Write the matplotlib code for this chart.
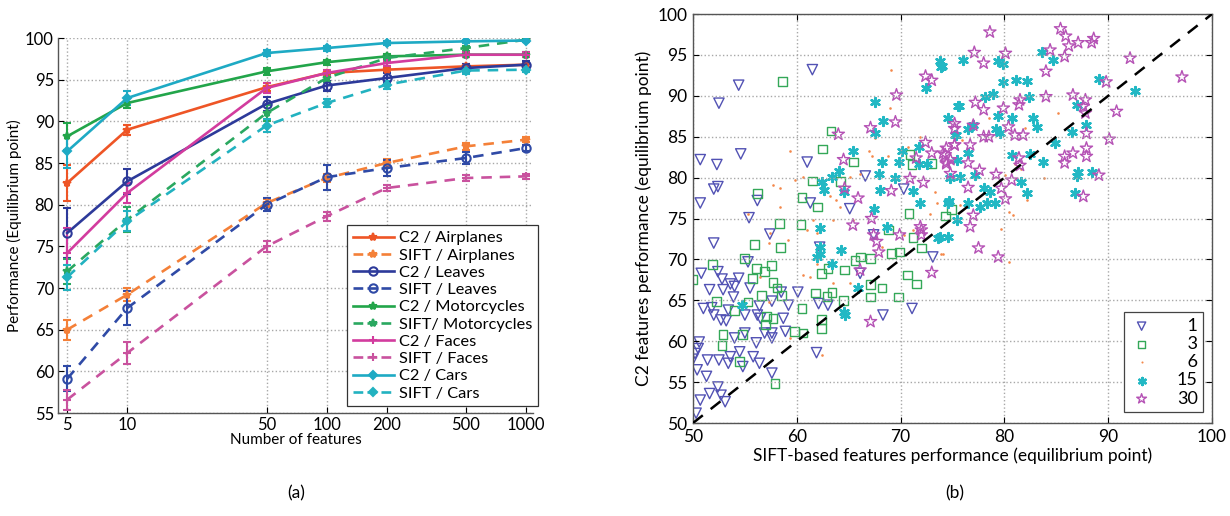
import numpy as np
import matplotlib
matplotlib.use("Agg")
import matplotlib.pyplot as plt
from matplotlib.lines import Line2D

plt.rcParams['font.family'] = ['Lato', 'DejaVu Sans']

# ---------------- (a) performance vs number of features ----------------
n_features = [5, 10, 50, 100, 200, 500, 1000]

c2_airplanes = [82.6, 89.0, 94.1, 95.8, 96.2, 96.6, 96.8]
c2_airplanes_err = [2.2, 0.6, 0.5, 0.3, 0.3, 0.3, 0.3]
sift_airplanes = [65.0, 69.2, 80.2, 83.2, 85.0, 87.0, 87.8]
sift_airplanes_err = [1.2, 0.8, 0.5, 0.5, 0.5, 0.4, 0.3]
c2_leaves = [76.6, 82.8, 92.1, 94.3, 95.2, 96.4, 96.8]
c2_leaves_err = [3.0, 1.5, 0.8, 0.6, 0.6, 0.5, 0.4]
sift_leaves = [59.1, 67.6, 80.0, 83.3, 84.4, 85.6, 86.8]
sift_leaves_err = [1.5, 2.0, 0.8, 1.5, 1.0, 0.7, 0.4]
c2_motorcycles = [88.2, 92.2, 96.0, 97.1, 97.8, 98.0, 98.0]
c2_motorcycles_err = [1.6, 0.6, 0.4, 0.3, 0.3, 0.3, 0.3]
sift_motorcycles = [72.0, 78.2, 91.0, 95.2, 97.6, 98.8, 99.8]
sift_motorcycles_err = [1.5, 1.5, 1.0, 0.5, 0.4, 0.3, 0.2]
c2_faces = [74.2, 81.4, 94.0, 95.8, 97.0, 98.0, 98.0]
c2_faces_err = [3.0, 1.2, 0.6, 0.4, 0.3, 0.3, 0.3]
sift_faces = [56.6, 62.2, 75.0, 78.6, 82.0, 83.2, 83.4]
sift_faces_err = [1.2, 1.3, 0.7, 0.5, 0.4, 0.4, 0.3]
c2_cars = [86.4, 92.8, 98.2, 98.8, 99.4, 99.6, 99.7]
c2_cars_err = [2.0, 0.8, 0.4, 0.3, 0.2, 0.2, 0.2]
sift_cars = [71.3, 78.0, 89.5, 92.2, 94.4, 96.1, 96.2]
sift_cars_err = [1.5, 1.2, 0.8, 0.5, 0.5, 0.4, 0.3]

series_a = [
    ("C2 / Airplanes", c2_airplanes, c2_airplanes_err, '#ee5526', '-', '*'),
    ("SIFT / Airplanes", sift_airplanes, sift_airplanes_err, '#f48038', '--', '*'),
    ("C2 / Leaves", c2_leaves, c2_leaves_err, '#2d3a9a', '-', 'o'),
    ("SIFT / Leaves", sift_leaves, sift_leaves_err, '#2f4aa6', '--', 'o'),
    ("C2 / Motorcycles", c2_motorcycles, c2_motorcycles_err, '#22a54a', '-', '*'),
    ("SIFT/ Motorcycles", sift_motorcycles, sift_motorcycles_err, '#2aa860', '--', '*'),
    ("C2 / Faces", c2_faces, c2_faces_err, '#d23c9e', '-', '+'),
    ("SIFT / Faces", sift_faces, sift_faces_err, '#c9529e', '--', '+'),
    ("C2 / Cars", c2_cars, c2_cars_err, '#1eaac4', '-', 'D'),
    ("SIFT / Cars", sift_cars, sift_cars_err, '#22b2c0', '--', 'D'),
]

# ---------------- (b) scatter C2 vs SIFT ----------------
tri_x = [61.5, 54.4, 52.5, 54.6, 50.7, 52.3, 61.0, 66.6, 52.0, 52.4, 50.7, 56.2, 61.3, 65.1, 70.3,
         55.4, 57.4, 52.0, 67.4, 50.8, 51.6, 52.4, 52.8, 53.6, 52.9, 54.0, 53.9, 54.4, 55.3, 55.5,
         56.4, 51.0, 52.0, 51.8, 52.7, 53.2, 53.4, 55.0, 56.2, 56.5, 57.6, 58.5, 59.2, 60.1, 58.7,
         58.9, 57.6, 56.9, 55.0, 54.0, 56.1, 57.6, 50.6, 50.5, 50.2, 50.0, 51.4, 52.5, 53.6, 54.5,
         55.8, 56.4, 54.8, 53.4, 50.4, 51.3, 57.6, 52.4, 51.6, 50.7, 52.7, 53.1, 50.3, 61.9, 62.1,
         63.0, 62.2, 66.1, 68.3, 71.1, 73.1]
tri_y = [93.2, 91.3, 89.1, 82.9, 82.2, 81.6, 81.9, 80.2, 78.6, 78.9, 76.9, 77.2, 76.9, 76.2, 78.6,
         75.1, 73.1, 72.0, 73.0, 68.3, 66.3, 68.5, 67.6, 67.0, 66.3, 66.7, 65.4, 67.7, 69.7, 66.5,
         64.3, 64.0, 63.2, 64.1, 62.6, 62.5, 63.8, 63.2, 63.2, 62.8, 64.9, 66.0, 64.4, 66.0, 62.8,
         61.2, 61.0, 61.0, 61.0, 60.4, 59.8, 60.4, 59.9, 59.1, 58.5, 57.8, 57.7, 57.7, 58.1, 58.7,
         58.1, 57.3, 56.9, 57.3, 56.5, 55.7, 56.1, 54.4, 53.6, 52.8, 53.4, 52.6, 51.2, 58.6, 64.6,
         64.4, 71.5, 68.3, 63.2, 64.0, 70.3]

sq_x = [58.6, 63.3, 62.5, 65.5, 61.5, 64.2, 56.2, 60.5, 62.0, 70.9, 71.1, 73.0, 58.3, 60.4, 70.8,
        74.3, 74.9, 68.8, 71.2, 55.9, 58.4, 50.0, 51.9, 55.0, 56.1, 56.9, 57.6, 55.7, 56.6, 57.7,
        58.1, 58.5, 52.3, 54.0, 55.3, 57.1, 57.0, 57.7, 59.8, 60.6, 52.9, 54.8, 52.8, 54.5, 57.9,
        60.5, 61.8, 62.9, 63.4, 62.4, 62.4, 62.4, 63.0, 64.6, 65.6, 66.1, 67.1, 64.5, 67.1, 67.1,
        68.2, 69.1, 69.9, 70.7, 71.5, 69.8, 72.0]
sq_y = [91.8, 85.7, 83.5, 81.9, 79.6, 79.5, 78.1, 77.6, 76.4, 82.8, 81.6, 81.7, 74.4, 74.3, 75.6,
        75.3, 76.1, 73.6, 72.7, 71.8, 71.5, 67.5, 69.4, 70.1, 68.9, 68.5, 69.3, 67.7, 65.6, 67.2,
        66.5, 65.6, 64.9, 63.8, 64.8, 63.0, 62.0, 62.8, 61.2, 61.0, 60.8, 60.8, 59.5, 57.5, 54.8,
        64.0, 65.9, 65.5, 66.0, 62.7, 61.6, 68.3, 68.9, 68.7, 69.9, 70.3, 70.1, 65.0, 66.9, 65.4,
        66.5, 70.7, 70.9, 68.1, 67.0, 65.4, 71.4]

dot_x = [69.1, 69.0, 59.3, 57.7, 58.4, 59.8, 58.4, 60.6, 63.2, 63.8, 64.2, 65.1, 66.1, 67.0, 67.2,
         67.5, 68.8, 70.7, 71.9, 73.3, 73.5, 65.4, 63.5, 61.6, 61.0, 59.2, 57.4, 55.3, 72.8, 68.2,
         70.3, 85.2, 78.5, 82.0, 75.9, 81.6, 83.8, 80.1, 81.8, 82.2, 75.7, 80.4, 80.8, 79.7, 81.0,
         74.1, 80.4, 57.3, 61.9, 60.6, 61.3, 61.9, 57.3, 59.3, 62.4, 71.2, 73.9, 63.5, 56.5, 65.1]
dot_y = [93.2, 88.5, 83.2, 79.1, 78.7, 79.7, 76.4, 80.1, 77.7, 77.3, 76.4, 80.1, 80.5, 83.3, 82.6,
         84.9, 82.7, 83.8, 85.0, 78.3, 76.9, 74.8, 74.8, 74.8, 73.6, 72.4, 73.2, 75.6, 75.5, 71.5,
         73.0, 87.9, 87.3, 86.1, 84.6, 81.1, 79.9, 80.3, 77.9, 77.3, 76.7, 75.8, 75.4, 73.7, 81.7,
         70.7, 69.7, 72.0, 73.2, 68.1, 67.9, 69.5, 64.8, 60.4, 58.3, 73.6, 70.7, 67.1, 67.9, 67.1]

ast_x = [83.6, 84.7, 76.0, 79.4, 79.9, 74.0, 79.9, 81.1, 82.2, 89.1, 92.6, 78.1, 78.9, 82.4, 75.6,
         79.4, 80.7, 87.0, 74.6, 76.5, 77.0, 79.2, 79.6, 82.8, 83.1, 75.2, 86.5, 87.9, 76.5, 75.4,
         80.7, 82.5, 84.9, 83.7, 75.7, 77.2, 81.6, 87.1, 87.0, 88.4, 78.0, 78.6, 82.2, 86.8, 74.6,
         76.5, 77.6, 78.3, 79.1, 75.4, 73.8, 73.8, 73.9, 72.4, 67.5, 68.3, 75.5, 75.3, 67.5, 70.1,
         65.4, 64.1, 63.4, 68.2, 69.8, 71.8, 72.5, 71.8, 67.9, 69.5, 62.4, 62.6, 64.5, 68.0, 71.2,
         74.8, 71.9, 74.7, 67.4, 62.2, 68.7, 73.6, 64.3, 62.2, 62.2, 61.9, 63.4, 65.9, 64.5, 64.6,
         54.7, 74.6]
ast_y = [95.4, 94.4, 94.4, 94.2, 93.9, 93.6, 91.7, 91.9, 91.8, 92.1, 90.6, 89.9, 90.2, 89.9, 88.7,
         87.5, 87.3, 88.9, 87.3, 86.0, 86.4, 86.0, 85.4, 87.3, 86.2, 85.2, 85.6, 86.4, 83.0, 82.2,
         82.8, 82.9, 84.2, 81.9, 80.1, 80.3, 79.5, 80.7, 80.2, 80.7, 78.7, 78.3, 78.1, 78.1, 76.9,
         76.9, 76.4, 76.9, 76.9, 74.8, 72.8, 94.3, 93.5, 91.0, 89.2, 86.9, 88.7, 85.2, 85.4, 83.2,
         83.2, 80.8, 80.1, 81.9, 81.9, 81.7, 81.7, 83.8, 80.4, 79.9, 79.5, 78.5, 78.3, 78.5, 78.4,
         79.9, 76.9, 77.1, 76.2, 73.8, 74.0, 72.6, 71.2, 71.5, 70.7, 70.3, 69.5, 66.5, 63.6, 63.2,
         64.4, 72.8]

star_x = [78.6, 85.4, 85.9, 86.2, 87.1, 88.4, 88.6, 77.1, 78.0, 80.1, 84.4, 85.8, 84.0, 92.1, 97.1,
          89.8, 84.0, 86.6, 87.8, 90.8, 81.5, 81.4, 77.2, 78.0, 79.9, 87.6, 87.8, 75.2, 77.0, 80.4,
          78.0, 78.5, 81.0, 81.8, 87.9, 90.1, 74.4, 75.2, 76.7, 74.3, 74.4, 74.8, 76.5, 81.4, 81.5,
          85.8, 86.6, 85.8, 87.9, 87.9, 77.6, 79.2, 79.7, 80.7, 89.1, 76.5, 80.1, 87.6, 77.0, 76.7,
          77.5, 72.4, 73.0, 69.6, 69.5, 67.1, 64.0, 72.4, 73.0, 71.5, 64.5, 70.9, 72.2, 74.1, 74.4,
          74.8, 75.2, 75.2, 69.1, 65.9, 64.6, 67.2, 65.4, 67.4, 67.7, 69.9, 72.0, 72.0, 67.9, 66.1,
          73.0, 67.1, 71.9, 79.4]
star_y = [97.8, 98.2, 97.3, 96.1, 96.5, 96.5, 97.0, 95.3, 94.0, 95.2, 95.6, 94.8, 93.0, 94.6, 92.3,
          91.7, 89.9, 90.1, 89.5, 88.1, 89.5, 88.9, 89.2, 88.3, 88.5, 88.7, 87.9, 86.6, 86.4, 86.2,
          85.0, 85.0, 85.2, 85.2, 85.4, 84.7, 83.6, 84.0, 84.0, 82.8, 81.9, 82.2, 81.8, 82.4, 81.5,
          82.6, 83.0, 81.8, 83.6, 82.6, 80.9, 80.4, 78.7, 79.7, 80.3, 78.8, 77.4, 77.7, 75.4, 74.0,
          71.4, 92.4, 91.9, 90.1, 86.8, 86.1, 85.3, 84.3, 83.0, 82.4, 82.2, 79.9, 79.4, 83.0, 81.7,
          80.5, 86.0, 84.0, 78.4, 77.5, 78.7, 75.0, 74.2, 73.0, 72.2, 73.0, 73.6, 73.0, 70.9, 68.7,
          68.4, 62.4, 74.0, 70.3]

size_labels = ['\u20071', '\u20073', '\u20076', '15', '30']

diag = [50, 100]

fig = plt.figure(figsize=(12.3, 5.16), dpi=100)

# ---- left panel ----
ax1 = fig.add_axes([0.0472, 0.1996, 0.3862, 0.7267])
handles = []
for label, vals, err, color, ls, mk in series_a:
    style = dict(color=color, lw=1.9, marker=mk, ms=6 if mk != 'D' else 4.5,
                 mfc='none' if mk == 'o' else color, mew=1.5,
                 dashes=(4, 3) if ls == '--' else (None, None), ls=ls)
    ax1.errorbar(n_features, vals, yerr=err, capsize=3, elinewidth=1.5, capthick=1.5, **style)
    handles.append(Line2D([], [], label=label, **style))
ax1.set_xscale('log')
ax1.set_xlim(4.5, 1085)
ax1.set_ylim(55, 100)
ax1.set_xticks(n_features)
ax1.set_xticklabels([str(v) for v in n_features])
ax1.xaxis.set_minor_locator(matplotlib.ticker.NullLocator())
ax1.set_yticks(np.arange(55, 101, 5))
ax1.tick_params(direction='in', length=4, labelsize=12, pad=3)
ax1.spines['top'].set_visible(False)
ax1.spines['right'].set_visible(False)
for s in ('left', 'bottom'):
    ax1.spines[s].set_color('#555555')
    ax1.spines[s].set_linewidth(1.0)
ax1.grid(True, ls=':', color='#a8a8a8', lw=1.0)
ax1.set_xlabel("Number of features", fontsize=11, labelpad=0)
ax1.set_ylabel("Performance (Equilibrium point)", fontsize=11, labelpad=2)
leg1 = ax1.legend(handles=handles, loc='upper left', bbox_to_anchor=(0.608, 0.501),
                  borderaxespad=0, fontsize=11.8, handlelength=2.5, labelspacing=0.17,
                  handletextpad=0.35, borderpad=0.35, fancybox=False, framealpha=1)
leg1.get_frame().set_edgecolor('#333333')
leg1.get_frame().set_linewidth(0.9)

# ---- right panel ----
ax2 = fig.add_axes([0.5634, 0.1802, 0.4220, 0.7926])
ax2.scatter(tri_x, tri_y, marker='v', s=55, facecolors='none', edgecolors='#5252b4',
            linewidths=1.0, label=size_labels[0])
ax2.scatter(sq_x, sq_y, marker='s', s=40, facecolors='none', edgecolors='#34a858',
            linewidths=1.0, label=size_labels[1])
ax2.scatter(dot_x, dot_y, marker='.', s=14, color='#f4884a', linewidths=0, label=size_labels[2])
ax2.scatter(ast_x, ast_y, marker=(6, 2, 0), s=40, color='#22b8c4', linewidths=1.8,
            label=size_labels[3])
ax2.scatter(star_x, star_y, marker='*', s=85, facecolors='none', edgecolors='#b552b5',
            linewidths=1.0, label=size_labels[4])
ax2.plot(diag, diag, color='black', ls='--', lw=1.8, dashes=(5, 4), zorder=5)
ax2.set_xlim(50, 100)
ax2.set_ylim(50, 100)
ax2.set_xticks(np.arange(50, 101, 10))
ax2.set_yticks(np.arange(50, 101, 5))
ax2.tick_params(direction='in', length=4, labelsize=12.5, top=True, right=True, pad=4)
for s in ax2.spines.values():
    s.set_color('#555555')
    s.set_linewidth(1.0)
ax2.grid(True, ls=':', color='#a8a8a8', lw=1.0)
ax2.set_xlabel("SIFT-based features performance (equilibrium point)", fontsize=12.5, labelpad=2)
ax2.set_ylabel("C2 features performance (equilibrium point)", fontsize=12.5, labelpad=4)
leg2 = ax2.legend(loc='lower right', bbox_to_anchor=(0.983, 0.027), borderaxespad=0,
                  fontsize=13, markerscale=0.8, handlelength=1.3, labelspacing=0.12,
                  handletextpad=1.3, borderpad=0.3, fancybox=False, framealpha=1)
leg2.get_frame().set_edgecolor('#444444')
leg2.get_frame().set_linewidth(0.9)

fig.text(296 / 1230, 1 - 493 / 516, "(a)", ha='center', va='center', fontsize=12.5)
fig.text(955 / 1230, 1 - 493 / 516, "(b)", ha='center', va='center', fontsize=12.5)

fig.savefig("out.png", dpi=100)
